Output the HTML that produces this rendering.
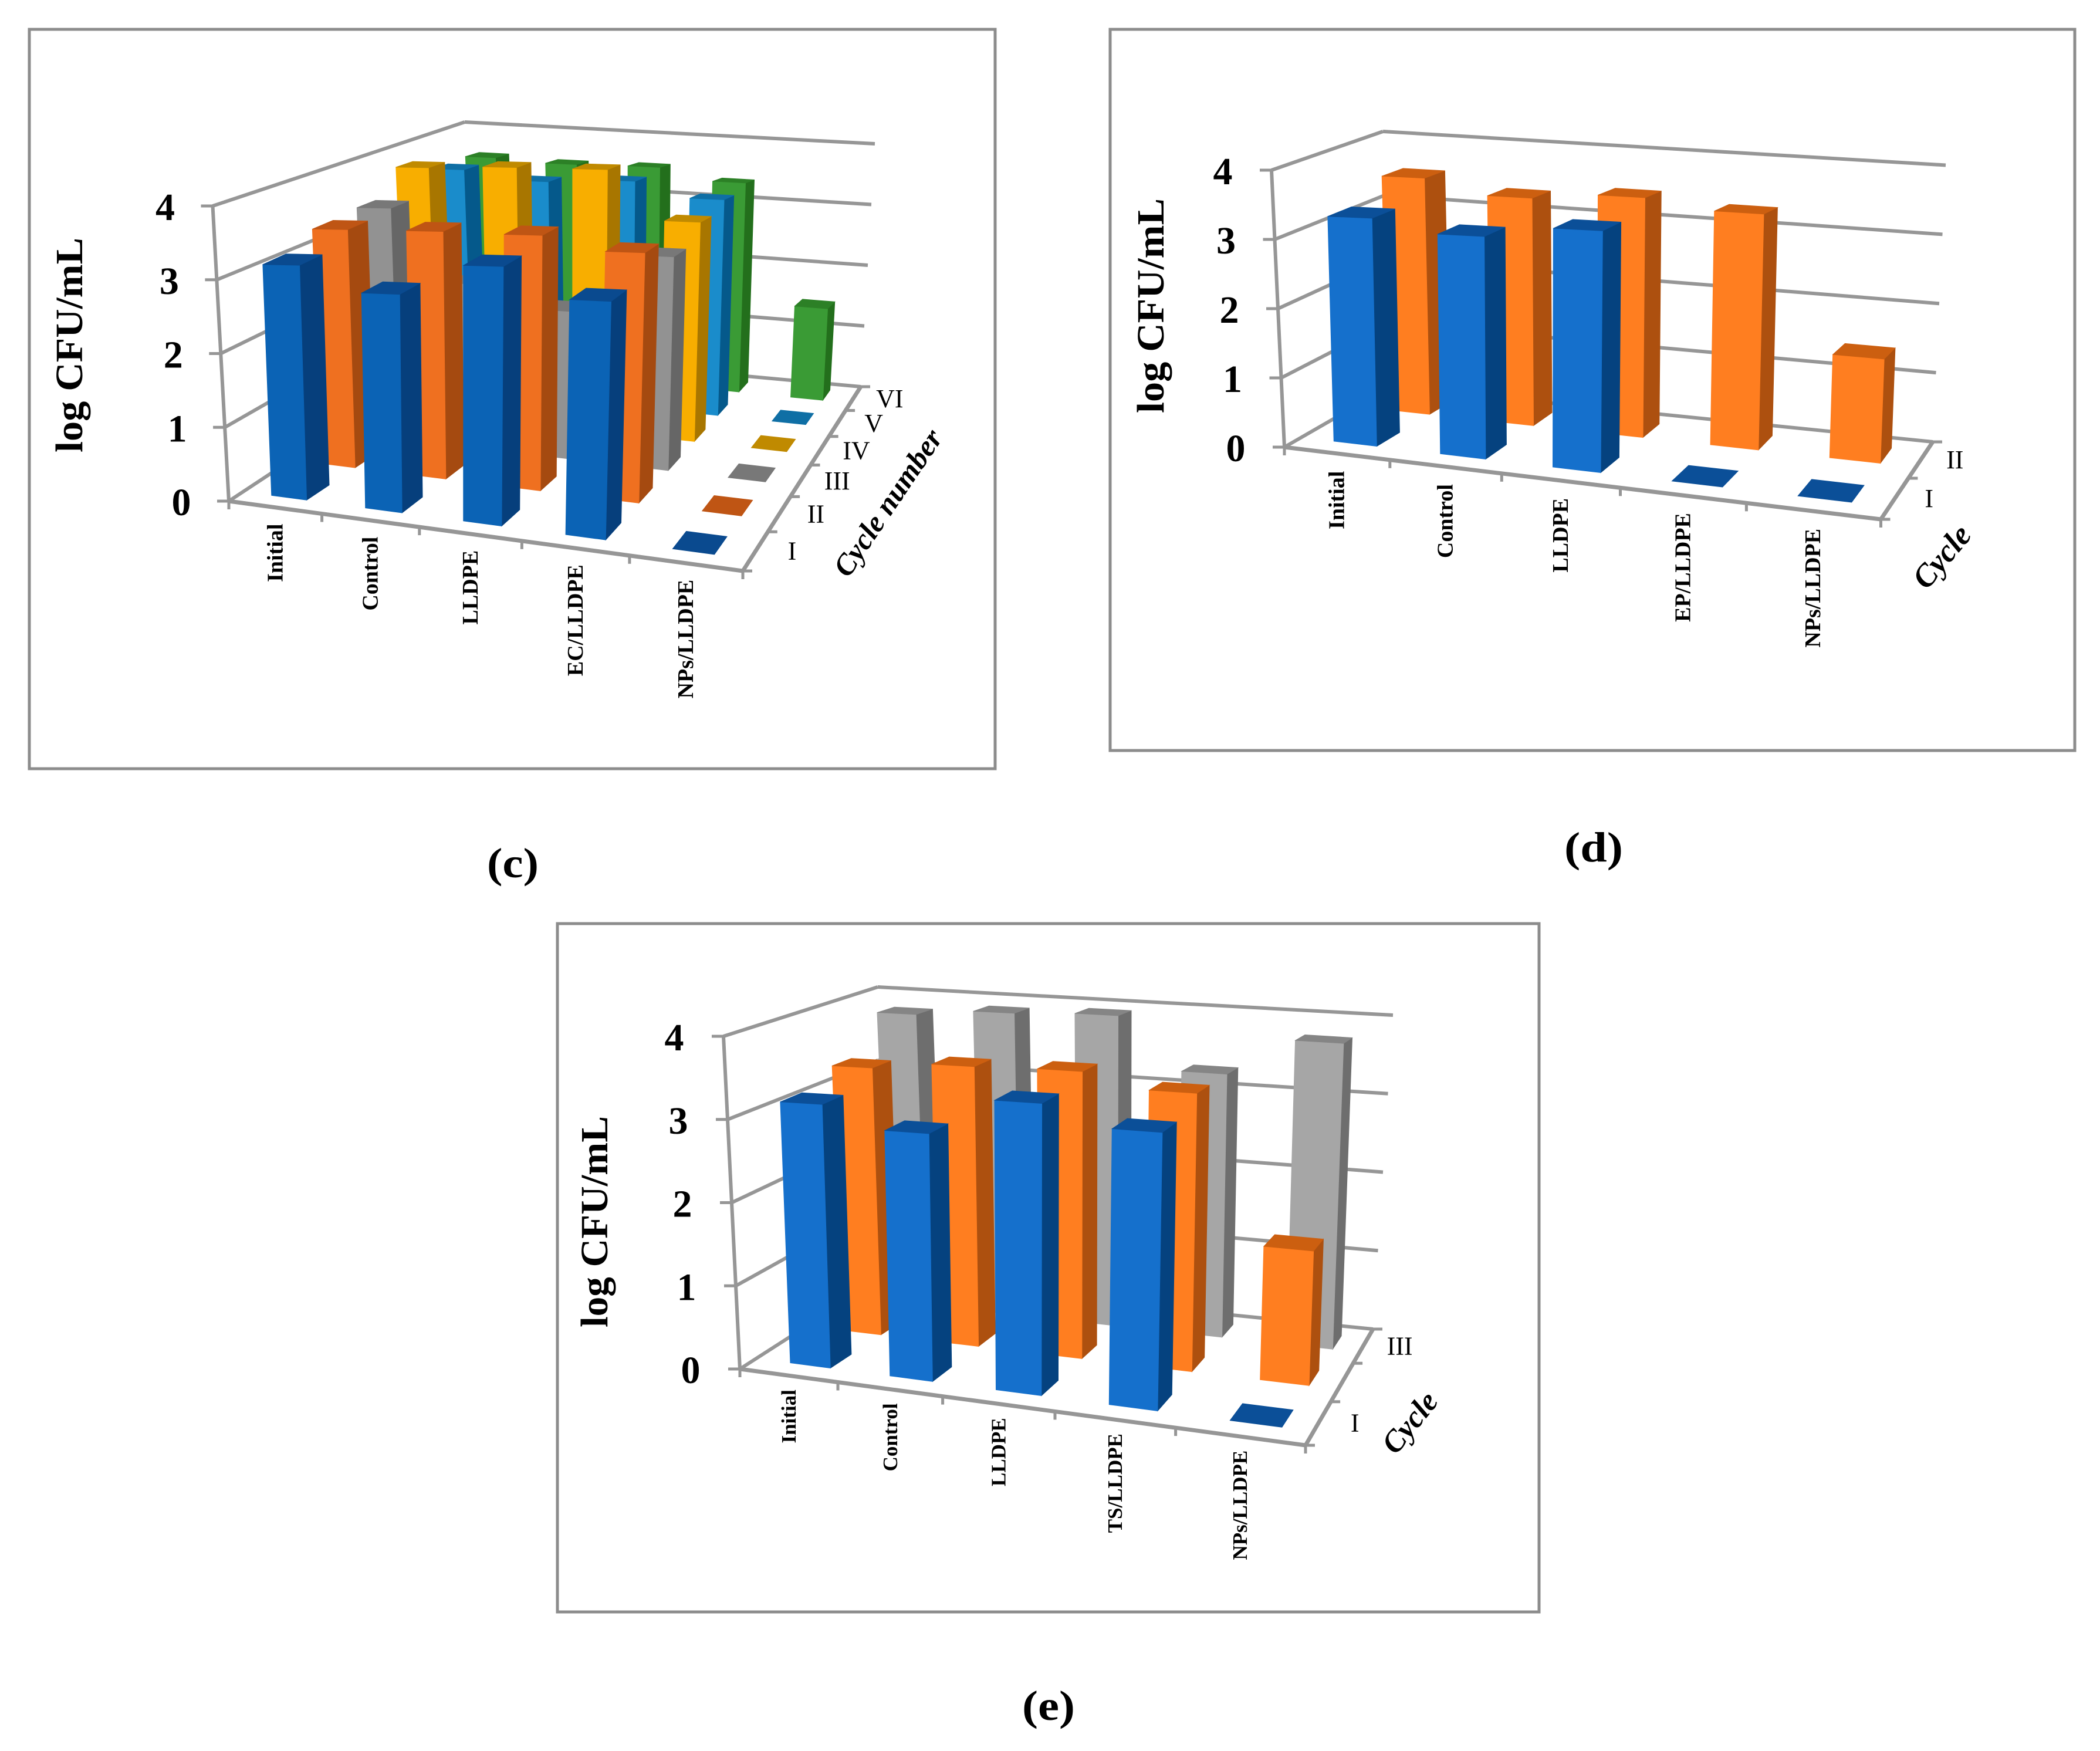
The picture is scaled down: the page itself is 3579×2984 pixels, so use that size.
<!DOCTYPE html>
<html>
<head>
<meta charset="utf-8">
<title>log CFU/mL 3D column charts</title>
<style>
html,body{margin:0;padding:0;background:#fff;width:3579px;height:2984px;overflow:hidden}
svg{display:block}
text{font-family:"Liberation Serif",serif;fill:#000}
</style>
</head>
<body>
<svg id="figure" xmlns="http://www.w3.org/2000/svg" width="3579" height="2984" viewBox="0 0 3579 2984">
  <rect width="3579" height="2984" fill="#fff"/>
  <rect x="50" y="50" width="1646" height="1260" fill="none" stroke="#8c8c8c" stroke-width="5"/>
  <rect x="1892" y="50" width="1644" height="1229" fill="none" stroke="#8c8c8c" stroke-width="5"/>
  <rect x="950" y="1574" width="1673" height="1173" fill="none" stroke="#8c8c8c" stroke-width="5"/>
  <g id="chart-c"></g>
  <g id="chart-d"></g>
  <g id="chart-e"></g>
  <text x="874" y="1495" font-size="72" font-weight="bold" text-anchor="middle" textLength="88" lengthAdjust="spacingAndGlyphs">(c)</text>
  <text x="2716" y="1468" font-size="72" font-weight="bold" text-anchor="middle" textLength="100" lengthAdjust="spacingAndGlyphs">(d)</text>
  <text x="1787" y="2931" font-size="72" font-weight="bold" text-anchor="middle" textLength="90" lengthAdjust="spacingAndGlyphs">(e)</text>
</svg>
<script>
// ---------- data ----------
const yTicks = [0, 1, 2, 3, 4];

const categoriesC = ['Initial', 'Control', 'LLDPE', 'EC/LLDPE', 'NPs/LLDPE'];
const cyclesC = ['I', 'II', 'III', 'IV', 'V', 'VI'];
const cCycleI = [3.12, 2.78, 3.17, 2.8, 0];
const cCycleII = [3.3, 3.3, 3.28, 3.1, 0];
const cCycleIII = [3.34, 2.3, 2.0, 2.8, 0];
const cCycleIV = [3.72, 3.75, 3.75, 3.05, 0];
const cCycleV = [3.5, 3.36, 3.42, 3.2, 0];
const cCycleVI = [3.53, 3.48, 3.5, 3.32, 1.43];

const categoriesD = ['Initial', 'Control', 'LLDPE', 'EP/LLDPE', 'NPs/LLDPE'];
const cyclesD = ['I', 'II'];
const dCycleI = [3.25, 3.07, 3.23, 0, 0];
const dCycleII = [3.53, 3.32, 3.42, 3.29, 1.42];

const categoriesE = ['Initial', 'Control', 'LLDPE', 'TS/LLDPE', 'NPs/LLDPE'];
const cyclesE = ['I', '', 'III'];
const eCycleI = [3.15, 2.89, 3.33, 3.1, 0];
const eCycleII = [3.33, 3.42, 3.44, 3.27, 1.55];
const eCycleIII = [3.8, 3.88, 3.92, 3.27, 3.74];

// ---------- drawing ----------
const NS = 'http://www.w3.org/2000/svg';
const GRID = '#969696';

function makeHomography(p0, p1, p2, p3) {
  const dx1 = p1[0] - p2[0], dx2 = p3[0] - p2[0], sx = p0[0] - p1[0] + p2[0] - p3[0];
  const dy1 = p1[1] - p2[1], dy2 = p3[1] - p2[1], sy = p0[1] - p1[1] + p2[1] - p3[1];
  const den = dx1 * dy2 - dx2 * dy1;
  const g = (sx * dy2 - dx2 * sy) / den;
  const h = (dx1 * sy - sx * dy1) / den;
  const a = p1[0] - p0[0] + g * p1[0], b = p3[0] - p0[0] + h * p3[0], c = p0[0];
  const d = p1[1] - p0[1] + g * p1[1], e = p3[1] - p0[1] + h * p3[1], f = p0[1];
  return function (u, v) {
    const w = g * u + h * v + 1;
    return [(a * u + b * v + c) / w, (d * u + e * v + f) / w];
  };
}

function svgEl(parent, tag) {
  const el = document.createElementNS(NS, tag);
  parent.appendChild(el);
  return el;
}

function line(parent, a, b, color, width) {
  const el = svgEl(parent, 'line');
  el.setAttribute('x1', a[0].toFixed(1));
  el.setAttribute('y1', a[1].toFixed(1));
  el.setAttribute('x2', b[0].toFixed(1));
  el.setAttribute('y2', b[1].toFixed(1));
  el.setAttribute('stroke', color);
  el.setAttribute('stroke-width', width);
  return el;
}

function poly(parent, pts, fill) {
  const el = svgEl(parent, 'polygon');
  el.setAttribute('points', pts.map(p => p[0].toFixed(1) + ',' + p[1].toFixed(1)).join(' '));
  el.setAttribute('fill', fill);
  el.setAttribute('stroke', fill);
  el.setAttribute('stroke-width', '0.8');
  return el;
}

function label(parent, str, x, y, size, opts) {
  const el = svgEl(parent, 'text');
  el.textContent = str;
  el.setAttribute('x', x.toFixed(1));
  el.setAttribute('y', y.toFixed(1));
  el.setAttribute('font-size', size);
  if (opts.bold) el.setAttribute('font-weight', 'bold');
  if (opts.italic) el.setAttribute('font-style', 'italic');
  el.setAttribute('text-anchor', opts.anchor || 'middle');
  if (opts.length) {
    el.setAttribute('textLength', opts.length);
    el.setAttribute('lengthAdjust', 'spacingAndGlyphs');
  }
  if (opts.rotate !== undefined) {
    el.setAttribute('transform', 'rotate(' + opts.rotate + ' ' + x.toFixed(1) + ' ' + y.toFixed(1) + ')');
  }
  return el;
}

function drawChart(cfg) {
  const root = document.getElementById(cfg.id);
  const floor = makeHomography(cfg.floor[0], cfg.floor[1], cfg.floor[2], cfg.floor[3]);
  const barFloor = makeHomography(cfg.barFloor[0], cfg.barFloor[1], cfg.barFloor[2], cfg.barFloor[3]);
  const maxV = yTicks[yTicks.length - 1];
  const nC = cfg.categories.length, nS = cfg.series.length;

  // axis functions
  const xAxis = i => i / nC;
  const zAxis = j => j / nS;
  const heightAt = (u, v) => {
    const h = cfg.heights;
    return (h[0] * (1 - u) + h[1] * u) * (1 - v) + (h[3] * (1 - u) + h[2] * u) * v;
  };
  const project = (u, v, val) => {
    const a = barFloor(u, v), t = val / maxV;
    const lean = cfg.lean[0] + (cfg.lean[1] - cfg.lean[0]) * u;
    return [a[0] + lean * t, a[1] - heightAt(u, v) * t];
  };
  // wall corners: corner index 0 front-left, 1 back-left, 2 back-right
  const wall = (corner, val) => {
    const b = cfg.wallBase[corner], t = cfg.wallTop[corner], k = val / maxV;
    return [b[0] + (t[0] - b[0]) * k, b[1] + (t[1] - b[1]) * k];
  };

  const grid = svgEl(root, 'g');
  
  
  yTicks.forEach(t => {
    const back = line(grid, wall(1, t), wall(2, t), GRID, 6);
    
    
    const side = line(grid, wall(0, t), wall(1, t), GRID, 6);
    
    
  });

  const axes = svgEl(root, 'g');
  
  
  const yLine = line(axes, wall(0, 0), wall(0, maxV), GRID, 6);
  
  
  const xLine = line(axes, floor(0, 0), floor(1, 0), GRID, 7);
  
  
  const zLine = line(axes, floor(1, 0), floor(1, 1), GRID, 7);
  
  

  yTicks.forEach(t => {
    const p = wall(0, t);
    const tk = line(axes, [p[0] - 20, p[1]], p, GRID, 5);
    
    
    const tl = label(root, String(t), p[0] + cfg.yLabelDx, p[1] + cfg.yLabelDy, 66, { bold: true });
    
    
  });

  for (let i = 0; i <= nC; i++) {
    const p = floor(xAxis(i), 0);
    const tk = line(axes, p, [p[0], p[1] + 14], GRID, 5);
    
    
  }
  for (let j = 0; j <= nS; j++) {
    const p = floor(1, zAxis(j));
    const tk = line(axes, p, [p[0] + 16, p[1]], GRID, 5);
    
    
  }

  // bars, back row first, left to right
  for (let j = nS - 1; j >= 0; j--) {
    const style = cfg.colors[j];
    const values = cfg.values[j];
    for (let i = 0; i < nC; i++) {
      const val = values[i];
      const u0 = xAxis(i + 0.5 + cfg.barShift - cfg.barWidth / 2), u1 = xAxis(i + 0.5 + cfg.barShift + cfg.barWidth / 2);
      const v0 = zAxis(j + 0.5 - cfg.barDepth / 2), v1 = zAxis(j + 0.5 + cfg.barDepth / 2);
      const g = svgEl(root, 'g');
      
      
      if (val > 0) {
        const side = poly(g, [project(u1, v0, 0), project(u1, v1, 0), project(u1, v1, val), project(u1, v0, val)], style[1]);
        
        
        const front = poly(g, [project(u0, v0, 0), project(u1, v0, 0), project(u1, v0, val), project(u0, v0, val)], style[0]);
        
        
      }
      const cap = poly(g, [project(u0, v0, val), project(u1, v0, val), project(u1, v1, val), project(u0, v1, val)], style[2]);
      
      
    }
  }

  // category labels
  cfg.categories.forEach((c, i) => {
    const p = floor(xAxis(i + 0.5), 0);
    const x = p[0] + 13, y = p[1] + cfg.catLabelDy;
    const el = label(root, c, x, y, cfg.catFont, { bold: true, anchor: 'end', rotate: -90 });
    
    
  });

  // cycle labels
  cfg.series.forEach((s, j) => {
    if (!s) return;
    const p = floor(1, zAxis(j + 0.5));
    const el = label(root, s, p[0] + cfg.serLabelDx, p[1] + 15, 44, {});
    
    
  });

  const yt = label(root, 'log CFU/mL', cfg.yTitle[0], cfg.yTitle[1], 66, { bold: true, rotate: -90, length: cfg.yTitle[2] });
  
  
  const zt = label(root, cfg.zTitle[0], cfg.zTitle[1], cfg.zTitle[2], cfg.zTitle[5], { bold: true, italic: true, rotate: cfg.zTitle[3], length: cfg.zTitle[4] });
  
  
}

const C_BLUE = ['#0B63B5', '#063F7C', '#0A4A8F'];
const C_ORANGE = ['#EF7020', '#A54A10', '#BF5514'];
const C_GREY = ['#929292', '#666666', '#787878'];
const C_YELLOW = ['#F8AE00', '#A87600', '#C08A00'];
const C_LBLUE = ['#1A8CCB', '#05598B', '#0F6FA5'];
const C_GREEN = ['#3A9B35', '#236F1C', '#2C8026'];
const D_BLUE = ['#1570CC', '#05427F', '#0B4F98'];
const D_ORANGE = ['#FF7E20', '#AD500F', '#CC5F10'];
const E_GREY = ['#A6A6A6', '#6E6E6E', '#858585'];

drawChart({
  id: 'chart-c',
  categories: categoriesC,
  series: cyclesC,
  values: [cCycleI, cCycleII, cCycleIII, cCycleIV, cCycleV, cCycleVI],
  colors: [C_BLUE, C_ORANGE, C_GREY, C_YELLOW, C_LBLUE, C_GREEN],
  floor: [[390, 854], [1266, 973], [1467, 659], [781, 596]],
  barFloor: [[390, 854], [1266, 973], [1467, 659], [811, 596]],
  wallBase: [[390, 854], [781, 596], [1467, 659]],
  wallTop: [[362.5, 351], [792, 208], [1491, 245]],
  heights: [503, 620, 414, 388],
  lean: [-22, 26],
  barWidth: 0.38, barDepth: 0.45, barShift: -0.01,
  yLabelDx: -81, yLabelDy: 24,
  catLabelDy: 28, catFont: 38, serLabelDx: 62,
  yTitle: [140, 588, 366],
  zTitle: ['Cycle number', 1527, 866, -56, 290, 50]
});

drawChart({
  id: 'chart-d',
  categories: categoriesD,
  series: cyclesD,
  values: [dCycleI, dCycleII],
  colors: [D_BLUE, D_ORANGE],
  floor: [[2189, 762], [3205.5, 885], [3294, 753], [2368, 659]],
  barFloor: [[2189, 762], [3205.5, 885], [3294, 753], [2376, 659]],
  wallBase: [[2189, 762], [2368, 659], [3294, 753]],
  wallTop: [[2167, 290], [2357, 224], [3316, 281.5]],
  heights: [472, 560, 471.5, 435],
  lean: [-15, 20],
  barWidth: 0.41, barDepth: 0.42, barShift: 0.015,
  yLabelDx: -83, yLabelDy: 24,
  catLabelDy: 30, catFont: 38, serLabelDx: 58,
  yTitle: [1983, 521, 366],
  zTitle: ['Cycle', 3323, 960, -50, 122, 54]
});

drawChart({
  id: 'chart-e',
  categories: categoriesE,
  series: cyclesE,
  values: [eCycleI, eCycleII, eCycleIII],
  colors: [D_BLUE, D_ORANGE, E_GREY],
  floor: [[1261, 2333], [2225, 2463], [2340, 2265], [1497.6, 2181]],
  barFloor: [[1261, 2333], [2225, 2463], [2343, 2265], [1516, 2181]],
  wallBase: [[1261, 2333], [1497.6, 2181], [2340, 2265]],
  wallTop: [[1233, 1766], [1496, 1682], [2374, 1730]],
  heights: [567, 640, 535, 499],
  lean: [-25, 22],
  barWidth: 0.41, barDepth: 0.4, barShift: 0.05,
  yLabelDx: -84, yLabelDy: 24,
  catLabelDy: 24, catFont: 35, serLabelDx: 62,
  yTitle: [1035, 2082, 360],
  zTitle: ['Cycle', 2416, 2435, -51, 118, 52]
});
</script>
</body>
</html>
